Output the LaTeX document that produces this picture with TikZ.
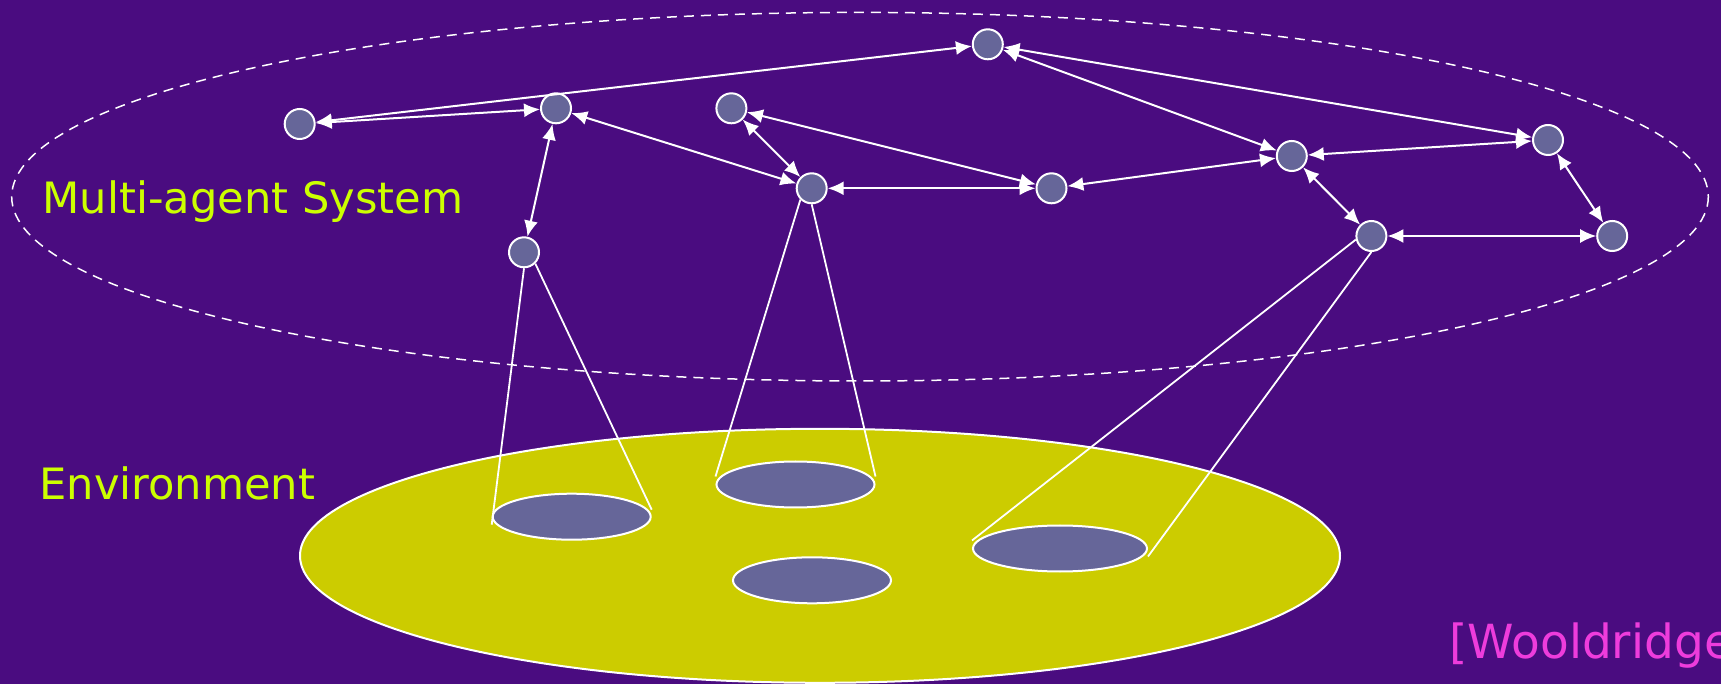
\documentclass[tikz,border=0pt]{standalone}
\usepackage{fontspec}
\setmainfont{DejaVu Sans}
\usetikzlibrary{shapes.geometric,arrows.meta}
\definecolor{fond}{RGB}{74,12,128}
\definecolor{vertclair}{RGB}{204,255,0}
\definecolor{jaune}{RGB}{204,204,0}
\definecolor{bleugris}{RGB}{102,102,153}
\definecolor{rose}{RGB}{238,60,220}

\begin{document}
\begin{tikzpicture}[x=0.5pt,y=-0.5pt,
    agent/.style={circle,draw=white,line width=1pt,fill=bleugris,minimum size=15pt,inner sep=0pt},
    zone/.style={ellipse,draw=white,line width=1pt,fill=bleugris,minimum width=79pt,minimum height=23pt,inner sep=0pt},
    lien/.style={white,line width=1pt,{Latex[length=8pt,width=7pt]}-{Latex[length=8pt,width=7pt]}},
    cone/.style={white,line width=0.9pt},
    titre/.style={anchor=base west,inner sep=0pt,font=\fontsize{21.6}{26}\selectfont,text=vertclair}]
    % Fond violet
    \useasboundingbox (0,0) rectangle (1721,684);
    \fill[fond] (0,0) rectangle (1721,684);
    % Systeme multi-agent (ellipse pointillee)
    \draw[white,line width=0.75pt,dash pattern=on 5pt off 3.5pt] (860,196.7) ellipse [x radius=848.3, y radius=184.3];
    % Environnement
    \node[ellipse,draw=white,line width=1pt,fill=jaune,minimum width=520pt,minimum height=127pt,inner sep=0pt] (env) at (820,555.8) {};
    \node[zone] (z1) at (571.7,516.7) {};
    \node[zone] (z2) at (795.5,484.5) {};
    \node[zone] (z3) at (812,580.3) {};
    \node[zone,minimum width=87pt] (z4) at (1060,548.5) {};
    % Agents
    \node[agent] (a1) at (299.7,124) {};
    \node[agent] (a2) at (556,108.3) {};
    \node[agent] (a3) at (731.4,108.3) {};
    \node[agent] (a4) at (524,252.3) {};
    \node[agent] (a5) at (811.7,188.3) {};
    \node[agent] (a6) at (987.8,44.3) {};
    \node[agent] (a7) at (1051.5,188.3) {};
    \node[agent] (a8) at (1291.8,156) {};
    \node[agent] (a9) at (1548,140) {};
    \node[agent] (a10) at (1371.4,236) {};
    \node[agent] (a11) at (1612.2,236) {};
    % Liens entre agents
    \draw[lien] (a1) -- (a6);
    \draw[lien] (a1) -- (a2);
    \draw[lien] (a2) -- (a4);
    \draw[lien] (a2) -- (a5);
    \draw[lien] (a3) -- (a5);
    \draw[lien] (a3) -- (a7);
    \draw[lien] (a5) -- (a7);
    \draw[lien] (a7) -- (a8);
    \draw[lien] (a6) -- (a8);
    \draw[lien] (a6) -- (a9);
    \draw[lien] (a8) -- (a9);
    \draw[lien] (a8) -- (a10);
    \draw[lien] (a9) -- (a11);
    \draw[lien] (a10) -- (a11);
    % Spheres d'influence
    \draw[cone] (a4.south) -- ([yshift=-4pt]z1.west);
    \draw[cone] (a4.-45) -- ([yshift=3.5pt]z1.east);
    \draw[cone] (a5.-135) -- ([yshift=4pt]z2.west);
    \draw[cone] (a5.south) -- ([yshift=4pt]z2.east);
    \draw[cone] (a10.193) -- ([yshift=4pt]z4.west);
    \draw[cone] (a10.south) -- ([yshift=-4pt]z4.east);
    % Textes
    \node[titre] (sma) at (42,213.3) {Multi-agent System};
    \node[titre] (envtxt) at (39,500) {Environment};
    \node[anchor=base west,inner sep=0pt,font=\fontsize{23.5}{28}\selectfont,text=rose] (ref) at (1449,658) {[Wooldridge};
\end{tikzpicture}
\end{document}
